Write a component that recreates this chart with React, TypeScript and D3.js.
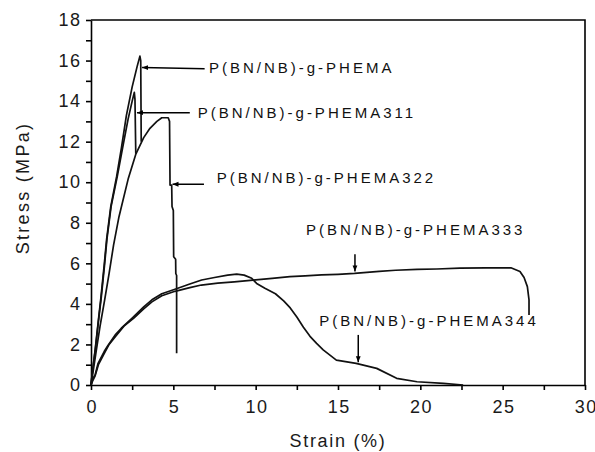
import React, { useEffect, useRef } from 'react';
import * as d3 from 'd3';

// stress-strain curves, [strain %, stress MPa]
const phema = [
  [0, 0], [0.08, 0.6], [0.26, 1.8], [0.45, 3.2], [0.6, 4.3], [0.8, 5.9], [0.95, 7.2],
  [1.2, 8.8], [1.56, 10.3], [1.85, 11.7], [2.15, 13.3], [2.5, 14.7], [2.8, 15.7],
  [2.97, 16.22], [3.02, 16.0], [3.05, 12.0],
];
const phema311 = [
  [0, 0], [0.08, 0.6], [0.27, 1.8], [0.46, 3.2], [0.62, 4.3], [0.82, 5.9], [0.97, 7.2],
  [1.22, 8.8], [1.6, 10.3], [1.92, 11.7], [2.25, 13.1], [2.5, 14.0], [2.63, 14.43],
  [2.67, 14.1], [2.72, 11.4],
];
const phema322 = [
  [0, 0], [0.08, 0.4], [0.32, 1.7], [0.55, 2.9], [0.83, 4.2], [1.1, 5.5], [1.37, 6.9],
  [1.7, 8.3], [2.27, 10.2], [2.73, 11.4], [3.2, 12.2], [3.58, 12.66], [4.0, 13.0],
  [4.3, 13.18], [4.69, 13.18], [4.77, 13.0], [4.8, 9.86], [4.9, 9.86], [4.92, 8.8],
  [5.0, 8.6], [5.02, 6.33], [5.14, 6.2], [5.15, 5.5], [5.2, 5.4], [5.2, 1.57],
];
const phema333 = [
  [0, 0], [0.1, 0.2], [0.25, 0.45], [0.45, 1.0], [0.8, 1.55], [1.1, 2.0], [1.5, 2.4],
  [2.0, 2.9], [2.6, 3.3], [3.2, 3.75], [3.7, 4.1], [4.3, 4.4], [5.1, 4.62], [6.0, 4.8],
  [6.7, 4.93], [7.7, 5.02], [8.7, 5.09], [10.0, 5.18], [11.0, 5.26], [12.08, 5.34],
  [13.0, 5.38], [14.0, 5.43], [15.0, 5.46], [16.0, 5.5], [17.5, 5.6], [18.5, 5.66],
  [19.8, 5.7], [21.0, 5.72], [22.4, 5.76], [24.0, 5.78], [25.5, 5.78], [26.05, 5.6],
  [26.3, 5.3], [26.5, 4.85], [26.6, 4.2], [26.6, 3.45],
];
const phema344 = [
  [0, 0], [0.1, 0.3], [0.25, 0.5], [0.43, 1.07], [0.8, 1.65], [1.03, 1.95], [1.5, 2.5],
  [1.84, 2.8], [2.5, 3.3], [3.2, 3.85], [3.7, 4.2], [4.3, 4.5], [5.1, 4.72], [6.0, 4.98],
  [6.72, 5.18], [7.5, 5.3], [8.3, 5.42], [8.85, 5.47], [9.3, 5.42], [9.76, 5.26],
  [10.06, 5.01], [10.56, 4.77], [11.2, 4.5], [11.7, 4.15], [12.1, 3.8], [12.5, 3.35],
  [12.9, 2.85], [13.3, 2.4], [13.7, 2.05], [14.1, 1.73], [14.9, 1.23], [16.1, 1.07],
  [17.35, 0.82], [18.56, 0.33], [19.8, 0.16], [21.4, 0.08], [22.6, 0],
];
const allSeries = [phema, phema311, phema322, phema333, phema344];

const seriesNames = [
  'P(BN/NB)-g-PHEMA',
  'P(BN/NB)-g-PHEMA311',
  'P(BN/NB)-g-PHEMA322',
  'P(BN/NB)-g-PHEMA333',
  'P(BN/NB)-g-PHEMA344',
];

// callouts in data units: text start, arrow tail, arrow tip
const callouts = [
  { text: [7.16, 15.37], from: [6.9, 15.6], to: [3.1, 15.66] },
  { text: [6.48, 13.18], from: [6.0, 13.43], to: [2.79, 13.43] },
  { text: [7.63, 9.97], from: [6.86, 9.9], to: [4.95, 9.9] },
  { text: [13.05, 7.4], from: [16.03, 6.45], to: [16.03, 5.6] },
  { text: [13.86, 2.91], from: [16.23, 2.47], to: [16.23, 1.12] },
];

const xTicks = d3.range(0, 30.01, 2.5);
const yTicks = d3.range(0, 18.01, 1);

const FONT = '"Liberation Sans", Arial, sans-serif';

export default function App() {
  const ref = useRef<SVGSVGElement>(null);

  useEffect(() => {
    const width = 595;
    const height = 452;
    const margin = { top: 20, left: 91, right: 10, bottom: 67 };

    const svg = d3.select(ref.current);
    svg.selectAll('*').remove();

    const x = d3.scaleLinear().domain([0, 30]).range([margin.left, width - margin.right]);
    const y = d3.scaleLinear().domain([0, 18]).range([height - margin.bottom, margin.top]);

    svg.append('defs').append('marker')
      .attr('id', 'head')
      .attr('viewBox', '0 0 10 10')
      .attr('refX', 10).attr('refY', 5)
      .attr('markerWidth', 6).attr('markerHeight', 6)
      .attr('markerUnits', 'userSpaceOnUse')
      .attr('orient', 'auto')
      .append('path').attr('d', 'M0,1 L10,5 L0,9 Z').attr('fill', '#000');

    // frame (top and right, no ticks)
    svg.append('path')
      .attr('d', `M${x(0)},${y(18)} H${x(30)} V${y(0)}`)
      .attr('fill', 'none').attr('stroke', '#000').attr('stroke-width', 1.6);

    const xAxis = svg.append('g')
      .attr('transform', `translate(0, ${y(0)})`)
      .call(d3.axisBottom(x).tickValues(xTicks).tickSize(5).tickSizeOuter(0).tickPadding(10)
        .tickFormat((d: any) => (d % 5 === 0 ? String(d) : '')));
    const yAxis = svg.append('g')
      .attr('transform', `translate(${x(0)}, 0)`)
      .call(d3.axisLeft(y).tickValues(yTicks).tickSize(5).tickSizeOuter(0).tickPadding(6)
        .tickFormat((d: any) => (d % 2 === 0 ? String(d) : '')));

    [xAxis, yAxis].forEach((g) => {
      g.attr('font-family', FONT).attr('font-size', 18);
      g.selectAll('path, line').attr('stroke', '#000').attr('stroke-width', 1.6);
      g.selectAll('text').attr('fill', '#1a1a1a').attr('letter-spacing', 1.5);
    });
    yAxis.selectAll('text').attr('dx', 1.5);
    xAxis.selectAll('text').attr('dx', 0.75);

    const line = d3.line<number[]>().x((d) => x(d[0])).y((d) => y(d[1]));

    svg.append('g').selectAll('path')
      .data(allSeries)
      .join('path')
      .attr('d', (d) => line(d))
      .attr('fill', 'none')
      .attr('stroke', '#111')
      .attr('stroke-width', 1.7)
      .attr('stroke-linejoin', 'round');

    const notes = svg.append('g');
    notes.selectAll('line')
      .data(callouts)
      .join('line')
      .attr('x1', (d) => x(d.from[0])).attr('y1', (d) => y(d.from[1]))
      .attr('x2', (d) => x(d.to[0])).attr('y2', (d) => y(d.to[1]))
      .attr('stroke', '#000').attr('stroke-width', 1.5)
      .attr('marker-end', 'url(#head)');
    notes.selectAll('text')
      .data(callouts)
      .join('text')
      .attr('x', (d) => x(d.text[0])).attr('y', (d) => y(d.text[1]))
      .attr('font-family', FONT).attr('font-size', 15).attr('letter-spacing', 3)
      .attr('fill', '#111')
      .text((d, i) => seriesNames[i]);

    svg.append('text')
      .attr('transform', `translate(29, 188) rotate(-90)`)
      .attr('text-anchor', 'middle')
      .attr('font-family', FONT).attr('font-size', 18).attr('letter-spacing', 2.3)
      .attr('fill', '#1a1a1a')
      .text('Stress (MPa)');
    svg.append('text')
      .attr('x', 338).attr('y', 447)
      .attr('text-anchor', 'middle')
      .attr('font-family', FONT).attr('font-size', 18).attr('letter-spacing', 1.7)
      .attr('fill', '#1a1a1a')
      .text('Strain (%)');
  }, []);

  return (
    <svg
      ref={ref}
      width={595}
      height={452}
      style={{ position: 'absolute', left: 0, top: 0, background: '#fff' }}
    />
  );
}
